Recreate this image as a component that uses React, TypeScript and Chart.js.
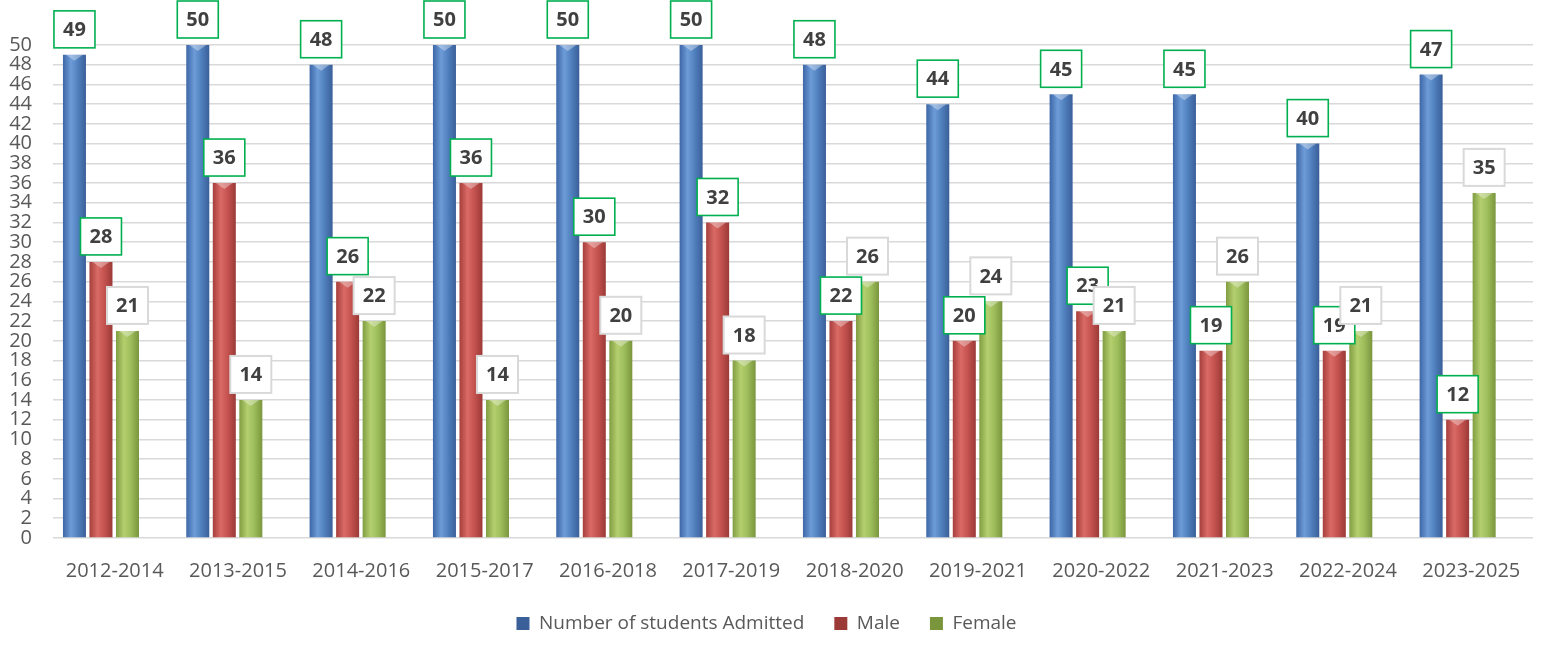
import React, { useEffect, useRef } from 'react';
import { Chart, registerables } from 'chart.js';

Chart.register(...registerables);

const categories = ['2012-2014', '2013-2015', '2014-2016', '2015-2017', '2016-2018', '2017-2019', '2018-2020', '2019-2021', '2020-2022', '2021-2023', '2022-2024', '2023-2025'];
const admitted = [49, 50, 48, 50, 50, 50, 48, 44, 45, 45, 40, 47];
const male = [28, 36, 26, 36, 30, 32, 22, 20, 23, 19, 19, 12];
const female = [21, 14, 22, 14, 20, 18, 26, 24, 21, 26, 21, 35];
const seriesNames = ['Number of students Admitted', 'Male', 'Female'];
const Y_MAX = 50;
const Y_STEP = 2;

const CAT_PCT = 0.645;
const BAR_PCT = 0.868;
const SHIFT = 13.7;
const FONT = "'Open Sans', 'DejaVu Sans', sans-serif";

const palettes = [
  { base: '#4f81bd', stops: ['#3d66a6', '#6d9cd8', '#5080be', '#3a5f99'], label: '#00b050' },
  { base: '#c0504d', stops: ['#a63f3c', '#da6a65', '#c4524f', '#9b3a37'], label: '#00b050' },
  { base: '#9bbb59', stops: ['#809d42', '#b4cf6e', '#9dbd5b', '#7a963d'], label: '#d9d9d9' },
];

function barFill(ctx: any) {
  const chart = ctx.chart;
  const p = palettes[ctx.datasetIndex];
  if (ctx.type !== 'data' || !chart.chartArea || !chart.scales.x) return p.base;
  const xs = chart.scales.x;
  const catW = xs.width / categories.length;
  const slot = (catW * CAT_PCT) / 3;
  const cx = xs.getPixelForValue(ctx.dataIndex) + (ctx.datasetIndex - 1) * slot - SHIFT;
  const w = slot * BAR_PCT;
  const g = chart.ctx.createLinearGradient(cx - w / 2, 0, cx + w / 2, 0);
  g.addColorStop(0, p.stops[0]);
  g.addColorStop(0.35, p.stops[1]);
  g.addColorStop(0.65, p.stops[2]);
  g.addColorStop(1, p.stops[3]);
  return g;
}

const shiftPlugin = {
  id: 'shiftBars',
  afterDatasetsUpdate(chart: any) {
    chart.data.datasets.forEach((_: any, di: number) => {
      const meta = chart.getDatasetMeta(di);
      meta.data.forEach((el: any) => {
        el.x -= SHIFT;
      });
    });
  },
};

const labelPlugin = {
  id: 'boxLabels',
  afterDatasetsDraw(chart: any) {
    const c = chart.ctx;
    c.save();
    chart.data.datasets.forEach((ds: any, di: number) => {
      const meta = chart.getDatasetMeta(di);
      meta.data.forEach((el: any) => {
        const w = el.width;
        c.fillStyle = 'rgba(255,255,255,0.35)';
        c.beginPath();
        c.moveTo(el.x - w / 2 + 3, el.y);
        c.lineTo(el.x + w / 2 - 3, el.y);
        c.lineTo(el.x, el.y + 6);
        c.closePath();
        c.fill();
      });
    });
    chart.data.datasets.forEach((ds: any, di: number) => {
      const meta = chart.getDatasetMeta(di);
      meta.data.forEach((el: any, i: number) => {
        const bw = 41;
        const bh = 37;
        const bx = el.x - bw / 2;
        const by = el.y - 7 - bh;
        c.fillStyle = '#ffffff';
        c.fillRect(bx, by, bw, bh);
        c.lineWidth = di === 2 ? 2 : 1.6;
        c.strokeStyle = palettes[di].label;
        c.strokeRect(bx, by, bw, bh);
        c.fillStyle = '#404040';
        c.font = `bold 20px ${FONT}`;
        c.textAlign = 'center';
        c.textBaseline = 'middle';
        c.fillText(String(ds.data[i]), el.x, by + bh / 2 + 1);
      });
    });
    c.restore();
  },
};

export default function App() {
  const ref = useRef<HTMLCanvasElement | null>(null);
  useEffect(() => {
    if (!ref.current) return;
    const values = [admitted, male, female];
    const chart = new Chart(ref.current, {
      type: 'bar',
      data: {
        labels: categories,
        datasets: values.map((v, k) => ({
          label: seriesNames[k],
          data: v,
          backgroundColor: barFill,
          borderWidth: 0,
          categoryPercentage: CAT_PCT,
          barPercentage: BAR_PCT,
        })),
      },
      options: {
        animation: false,
        responsive: true,
        maintainAspectRatio: false,
        layout: { padding: { left: 0, right: 18, top: 45, bottom: 13 } },
        plugins: {
          legend: {
            position: 'bottom',
            labels: {
              boxWidth: 13,
              boxHeight: 13,
              padding: 30,
              color: '#595959',
              font: { family: FONT, size: 19 },
            },
          },
          tooltip: { enabled: true },
        },
        scales: {
          x: {
            grid: { display: false },
            border: { display: false },
            ticks: { color: '#595959', font: { family: FONT, size: 20 }, padding: 13 },
            afterFit: (s: any) => { s.height = 46; },
          },
          y: {
            min: 0,
            max: Y_MAX,
            ticks: { stepSize: Y_STEP, autoSkip: false, color: '#595959', font: { family: FONT, size: 20, lineHeight: 1 }, padding: 21 },
            grid: { color: '#d9d9d9', lineWidth: 1.6, drawTicks: false },
            border: { display: false },
            afterFit: (s: any) => { s.width = 53; },
          },
        },
      },
      plugins: [shiftPlugin, labelPlugin],
    });
    return () => chart.destroy();
  }, []);
  return (
    <div style={{ position: 'absolute', left: 0, top: 0, width: 1551, height: 656, background: '#fff' }}>
      <canvas ref={ref} />
    </div>
  );
}
